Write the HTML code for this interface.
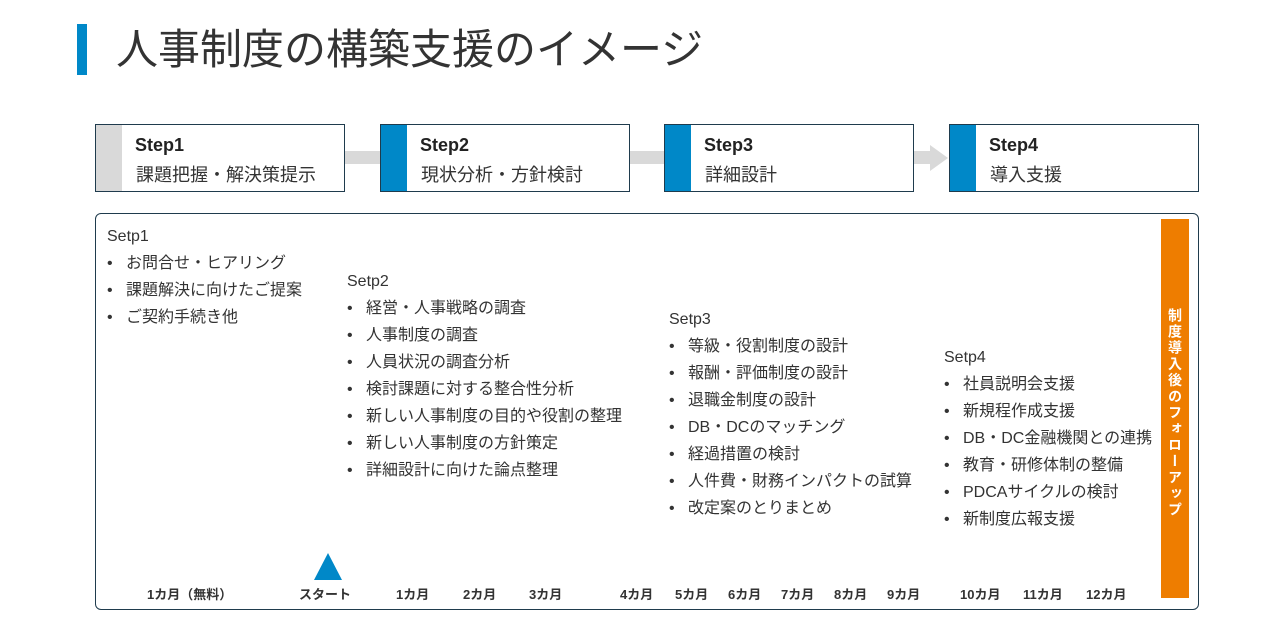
<!DOCTYPE html>
<html><head><meta charset="utf-8"><style>
body{margin:0;width:1280px;height:631px;background:#fff;position:relative;overflow:hidden;font-family:"Liberation Sans","Noto Sans CJK JP",sans-serif;color:#333}
.a{position:absolute;white-space:nowrap}
.step{position:absolute;top:124px;width:250px;height:68px;border:1px solid #1f3b4d;background:#fff;box-sizing:border-box}
.step .bar{position:absolute;left:0;top:0;bottom:0;width:26px;background:#0088c8}
.step b{position:absolute;left:39px;top:10px;font-size:18px;color:#222}
.step span{position:absolute;left:40px;top:36px;font-size:18px;color:#333}
.conn{position:absolute;top:151px;height:13px;background:#d9d9d9}
.t{font-size:16px;color:#333;line-height:27px}
.t div{white-space:nowrap}
.t i{font-style:normal;display:inline-block;width:19px}
.m{position:absolute;top:584px;font-size:13px;font-weight:bold;color:#333;white-space:nowrap}
</style></head><body>
<div class="a" style="left:77px;top:24px;width:10px;height:51px;background:#0088c8"></div>
<div class="a" style="left:116px;top:24px;font-size:42px;color:#333;line-height:52px">人事制度の構築支援のイメージ</div>

<div class="conn" style="left:345px;width:35px"></div>
<div class="conn" style="left:630px;width:35px"></div>
<div class="conn" style="left:914px;width:18px"></div>
<svg class="a" style="left:930px;top:145px" width="20" height="26"><polygon points="0,0 18,13 0,26" fill="#d9d9d9"/></svg>

<div class="step" style="left:95px"><div class="bar" style="background:#d9d9d9"></div><b>Step1</b><span>課題把握・解決策提示</span></div>
<div class="step" style="left:380px"><div class="bar"></div><b>Step2</b><span>現状分析・方針検討</span></div>
<div class="step" style="left:664px"><div class="bar"></div><b>Step3</b><span>詳細設計</span></div>
<div class="step" style="left:949px"><div class="bar"></div><b>Step4</b><span>導入支援</span></div>

<div class="a" style="left:95px;top:213px;width:1104px;height:397px;border:1px solid #1f3b4d;border-radius:6px;box-sizing:border-box"></div>
<div class="a" style="left:1161px;top:219px;width:28px;height:379px;background:#ee7d00"></div>
<div class="a" style="left:1166px;top:308px;width:18px;font-size:14px;font-weight:bold;color:#fff;line-height:18px;letter-spacing:2.2px;white-space:normal;text-align:center;writing-mode:vertical-rl">制度導入後のフォローアップ</div>

<div class="a t" style="left:107px;top:223px"><div>Setp1</div><div><i>•</i>お問合せ・ヒアリング</div><div><i>•</i>課題解決に向けたご提案</div><div><i>•</i>ご契約手続き他</div></div>
<div class="a t" style="left:347px;top:268px"><div>Setp2</div><div><i>•</i>経営・人事戦略の調査</div><div><i>•</i>人事制度の調査</div><div><i>•</i>人員状況の調査分析</div><div><i>•</i>検討課題に対する整合性分析</div><div><i>•</i>新しい人事制度の目的や役割の整理</div><div><i>•</i>新しい人事制度の方針策定</div><div><i>•</i>詳細設計に向けた論点整理</div></div>
<div class="a t" style="left:669px;top:306px"><div>Setp3</div><div><i>•</i>等級・役割制度の設計</div><div><i>•</i>報酬・評価制度の設計</div><div><i>•</i>退職金制度の設計</div><div><i>•</i>DB・DCのマッチング</div><div><i>•</i>経過措置の検討</div><div><i>•</i>人件費・財務インパクトの試算</div><div><i>•</i>改定案のとりまとめ</div></div>
<div class="a t" style="left:944px;top:344px"><div>Setp4</div><div><i>•</i>社員説明会支援</div><div><i>•</i>新規程作成支援</div><div><i>•</i>DB・DC金融機関との連携</div><div><i>•</i>教育・研修体制の整備</div><div><i>•</i>PDCAサイクルの検討</div><div><i>•</i>新制度広報支援</div></div>

<svg class="a" style="left:314px;top:553px" width="28" height="28"><polygon points="14,0 28,27 0,27" fill="#0088c8"/></svg>
<div class="m" style="left:147px">1カ月（無料）</div>
<div class="m" style="left:299px">スタート</div>
<div class="m" style="left:396px">1カ月</div>
<div class="m" style="left:463px">2カ月</div>
<div class="m" style="left:529px">3カ月</div>
<div class="m" style="left:620px">4カ月</div>
<div class="m" style="left:675px">5カ月</div>
<div class="m" style="left:728px">6カ月</div>
<div class="m" style="left:781px">7カ月</div>
<div class="m" style="left:834px">8カ月</div>
<div class="m" style="left:887px">9カ月</div>
<div class="m" style="left:960px">10カ月</div>
<div class="m" style="left:1023px">11カ月</div>
<div class="m" style="left:1086px">12カ月</div>
</body></html>
